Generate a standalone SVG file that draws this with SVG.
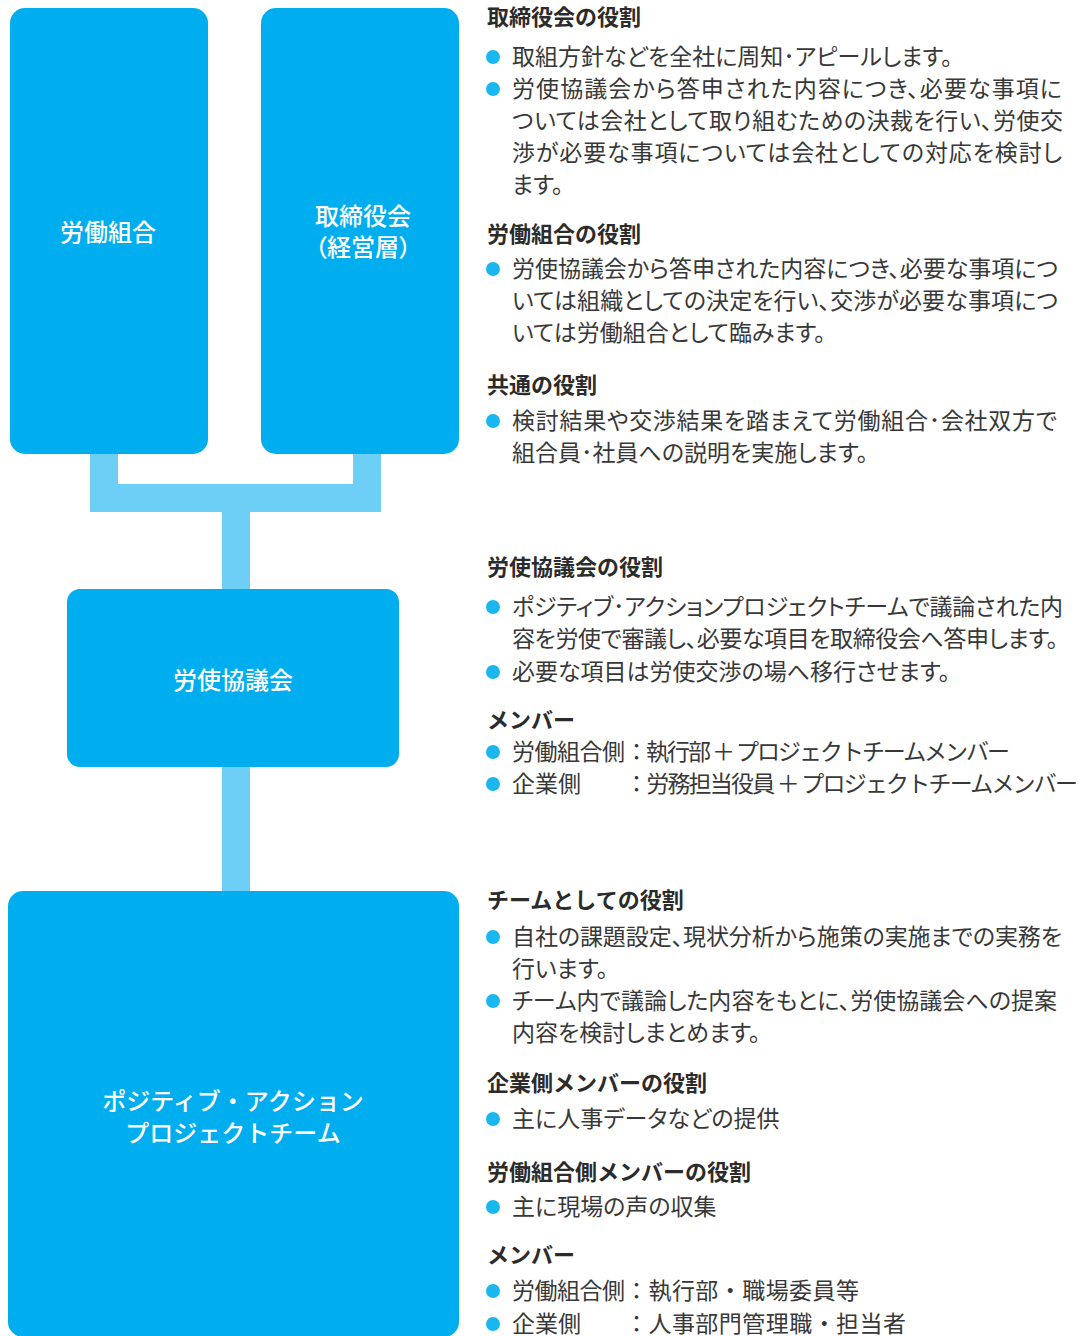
<svg xmlns="http://www.w3.org/2000/svg" width="1084" height="1336" viewBox="0 0 1084 1336">
<style>
.box{fill:#00aeef}
.nt{fill:#fff;font-family:"Noto Sans CJK JP","Noto Sans",sans-serif;font-size:24px;font-weight:500;text-anchor:middle}
.p{font-feature-settings:"palt"}
.h{fill:#2b2b2b;font-family:"Noto Sans CJK JP","Noto Sans",sans-serif;font-size:22px;font-weight:bold}
.b{fill:#383838;font-family:"Noto Sans CJK JP","Noto Sans",sans-serif;font-size:23px;font-feature-settings:"palt"}
.m{fill:#383838;font-family:"Noto Sans CJK JP","Noto Sans",sans-serif;font-size:23px}
.dot{fill:#1ab7ee}
.con{fill:none;stroke:#6dcff6;stroke-width:28;stroke-linejoin:miter}
</style>
<g id="connectors">
<path class="con" d="M104 454 V498 H367 V454"/>
<path class="con" d="M236 498 V590"/>
<path class="con" d="M236 766 V892"/>
</g>
<g id="node-union">
<rect class="box" x="10" y="8" width="198" height="446" rx="15"/>
<text class="nt p" x="108" y="241">労働組合</text>
</g>
<g id="node-board">
<rect class="box" x="261" y="8" width="198" height="446" rx="15"/>
<text class="nt p" x="363" y="225">取締役会</text>
<text class="nt p" x="363" y="256">（経営層）</text>
</g>
<g id="node-council">
<rect class="box" x="67" y="589" width="332" height="178" rx="13"/>
<text class="nt p" x="233" y="689">労使協議会</text>
</g>
<g id="node-team">
<rect class="box" x="8" y="891" width="451" height="446" rx="15"/>
<text class="nt" x="233" y="1110">ポジティブ・アクション</text>
<text class="nt" x="233" y="1142">プロジェクトチーム</text>
</g>
<g id="desc-1">
<text class="h" x="487" y="25">取締役会の役割</text>
<circle class="dot" cx="493" cy="57" r="7"/>
<text class="b" x="512" y="65">取組方針などを全社に周知･アピールします。</text>
<circle class="dot" cx="493" cy="89" r="7"/>
<text class="b" x="512" y="97" textLength="550" lengthAdjust="spacing">労使協議会から答申された内容につき、必要な事項に</text>
<text class="b" x="512" y="129" textLength="551" lengthAdjust="spacing">ついては会社として取り組むための決裁を行い、労使交</text>
<text class="b" x="512" y="161" textLength="550" lengthAdjust="spacing">渉が必要な事項については会社としての対応を検討し</text>
<text class="b" x="512" y="193">ます。</text>
<text class="h" x="487" y="242">労働組合の役割</text>
<circle class="dot" cx="493" cy="269" r="7"/>
<text class="b" x="512" y="277" textLength="546" lengthAdjust="spacing">労使協議会から答申された内容につき、必要な事項につ</text>
<text class="b" x="512" y="309" textLength="546" lengthAdjust="spacing">いては組織としての決定を行い、交渉が必要な事項につ</text>
<text class="b" x="512" y="341">いては労働組合として臨みます。</text>
<text class="h" x="487" y="393">共通の役割</text>
<circle class="dot" cx="493" cy="421" r="7"/>
<text class="b" x="512" y="429" textLength="545" lengthAdjust="spacing">検討結果や交渉結果を踏まえて労働組合･会社双方で</text>
<text class="b" x="512" y="461">組合員･社員への説明を実施します。</text>
</g>
<g id="desc-2">
<text class="h" x="487" y="575">労使協議会の役割</text>
<circle class="dot" cx="493" cy="607" r="7"/>
<text class="b" x="512" y="615" textLength="551" lengthAdjust="spacing">ポジティブ･アクションプロジェクトチームで議論された内</text>
<text class="b" x="512" y="647" textLength="546" lengthAdjust="spacing">容を労使で審議し、必要な項目を取締役会へ答申します。</text>
<circle class="dot" cx="493" cy="672" r="7"/>
<text class="b" x="512" y="680">必要な項目は労使交渉の場へ移行させます。</text>
<text class="h" x="487" y="728">メンバー</text>
<circle class="dot" cx="493" cy="752" r="7"/>
<text class="m" x="512" y="760" textLength="113" lengthAdjust="spacing">労働組合側</text>
<text class="m" x="625" y="760" textLength="385" lengthAdjust="spacing">：執行部 ＋ プロジェクトチームメンバー</text>
<circle class="dot" cx="493" cy="784" r="7"/>
<text class="m" x="512" y="792">企業側</text>
<text class="m" x="625" y="792" textLength="453" lengthAdjust="spacing">：労務担当役員 ＋ プロジェクトチームメンバー</text>
</g>
<g id="desc-3">
<text class="h" x="487" y="908">チームとしての役割</text>
<circle class="dot" cx="493" cy="937" r="7"/>
<text class="b" x="512" y="945" textLength="550" lengthAdjust="spacing">自社の課題設定、現状分析から施策の実施までの実務を</text>
<text class="b" x="512" y="977">行います。</text>
<circle class="dot" cx="493" cy="1001" r="7"/>
<text class="b" x="512" y="1009" textLength="545" lengthAdjust="spacing">チーム内で議論した内容をもとに、労使協議会への提案</text>
<text class="b" x="512" y="1041">内容を検討しまとめます。</text>
<text class="h" x="487" y="1091">企業側メンバーの役割</text>
<circle class="dot" cx="493" cy="1119" r="7"/>
<text class="b" x="512" y="1127">主に人事データなどの提供</text>
<text class="h" x="487" y="1180">労働組合側メンバーの役割</text>
<circle class="dot" cx="493" cy="1207" r="7"/>
<text class="b" x="512" y="1215">主に現場の声の収集</text>
<text class="h" x="487" y="1263">メンバー</text>
<circle class="dot" cx="493" cy="1291" r="7"/>
<text class="m" x="512" y="1299" textLength="113" lengthAdjust="spacing">労働組合側</text>
<text class="m" x="625" y="1299" textLength="234" lengthAdjust="spacing">：執行部・職場委員等</text>
<circle class="dot" cx="493" cy="1324" r="7"/>
<text class="m" x="512" y="1332">企業側</text>
<text class="m" x="625" y="1332" textLength="281" lengthAdjust="spacing">：人事部門管理職・担当者</text>
</g>
</svg>
